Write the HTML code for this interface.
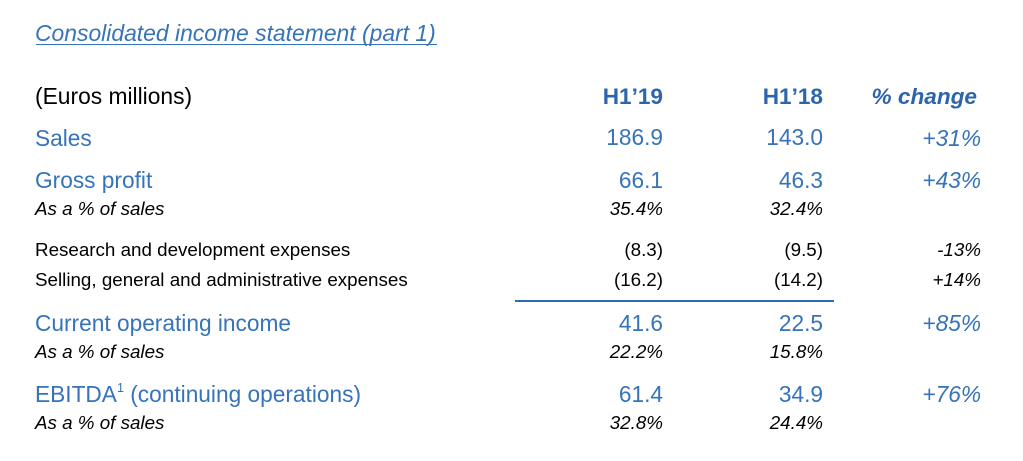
<!DOCTYPE html>
<html>
<head>
<meta charset="utf-8">
<style>
  html, body { margin:0; padding:0; background:#fff; }
  body { width:1023px; height:461px; position:relative; overflow:hidden;
         font-family:"Liberation Sans", Arial, sans-serif; }
  .t { position:absolute; line-height:1; white-space:nowrap; }
  .big { font-size:22.7px; color:#3673b8; }
  .sm { font-size:18.8px; color:#000; }
  .it { font-style:italic; }
  .hd { font-size:22.6px; font-weight:bold; color:#2c65ab; }
  .r { text-align:right; }
  .c1 { right:360px; }
  .c2 { right:200px; }
  .c3 { right:42px; }
  .blk { color:#000; }
</style>
</head>
<body>
  <div class="t it" style="left:35px; top:22px; font-size:22.9px; color:#3673b8;">Consolidated income statement (part 1)</div>
  <div style="position:absolute; left:36px; top:43.8px; width:401px; height:1.6px; background:#3673b8;"></div>

  <!-- header -->
  <div class="t big blk" style="left:35px; top:85.3px; font-size:22.8px;">(Euros millions)</div>
  <div class="t hd r c1" style="top:85.5px;">H1’19</div>
  <div class="t hd r c2" style="top:85.5px;">H1’18</div>
  <div class="t hd it r" style="right:46px; top:85.8px;">% change</div>

  <!-- Sales -->
  <div class="t big" style="left:35px; top:126.6px;">Sales</div>
  <div class="t big r c1" style="top:126.3px;">186.9</div>
  <div class="t big r c2" style="top:126.3px;">143.0</div>
  <div class="t big it r c3" style="top:126.6px;">+31%</div>

  <!-- Gross profit -->
  <div class="t big" style="left:35px; top:169px;">Gross profit</div>
  <div class="t big r c1" style="top:169px;">66.1</div>
  <div class="t big r c2" style="top:169px;">46.3</div>
  <div class="t big it r c3" style="top:169.3px;">+43%</div>

  <div class="t sm it" style="left:35px; top:199.6px;">As a % of sales</div>
  <div class="t sm it r c1" style="top:199.6px;">35.4%</div>
  <div class="t sm it r c2" style="top:199.6px;">32.4%</div>

  <!-- R&D -->
  <div class="t sm" style="left:35px; top:241.1px;">Research and development expenses</div>
  <div class="t sm r c1" style="top:241.1px;">(8.3)</div>
  <div class="t sm r c2" style="top:241.1px;">(9.5)</div>
  <div class="t sm it r c3" style="top:241.1px;">-13%</div>

  <!-- SG&A -->
  <div class="t sm" style="left:35px; top:271.1px;">Selling, general and administrative expenses</div>
  <div class="t sm r c1" style="top:271.1px;">(16.2)</div>
  <div class="t sm r c2" style="top:271.1px;">(14.2)</div>
  <div class="t sm it r c3" style="top:271.1px;">+14%</div>

  <div style="position:absolute; left:515px; top:300px; width:319px; height:2px; background:#2e6bb0;"></div>

  <!-- COI -->
  <div class="t big" style="left:35px; top:311.8px;">Current operating income</div>
  <div class="t big r c1" style="top:311.8px;">41.6</div>
  <div class="t big r c2" style="top:311.8px;">22.5</div>
  <div class="t big it r c3" style="top:311.8px;">+85%</div>

  <div class="t sm it" style="left:35px; top:343.1px;">As a % of sales</div>
  <div class="t sm it r c1" style="top:343.1px;">22.2%</div>
  <div class="t sm it r c2" style="top:343.1px;">15.8%</div>

  <!-- EBITDA -->
  <div class="t big" style="left:35px; top:382.8px;">EBITDA<span style="font-size:12.5px; position:relative; top:-9.5px;">1</span> (continuing operations)</div>
  <div class="t big r c1" style="top:382.8px;">61.4</div>
  <div class="t big r c2" style="top:382.8px;">34.9</div>
  <div class="t big it r c3" style="top:382.8px;">+76%</div>

  <div class="t sm it" style="left:35px; top:413.6px;">As a % of sales</div>
  <div class="t sm it r c1" style="top:413.6px;">32.8%</div>
  <div class="t sm it r c2" style="top:413.6px;">24.4%</div>
</body>
</html>
